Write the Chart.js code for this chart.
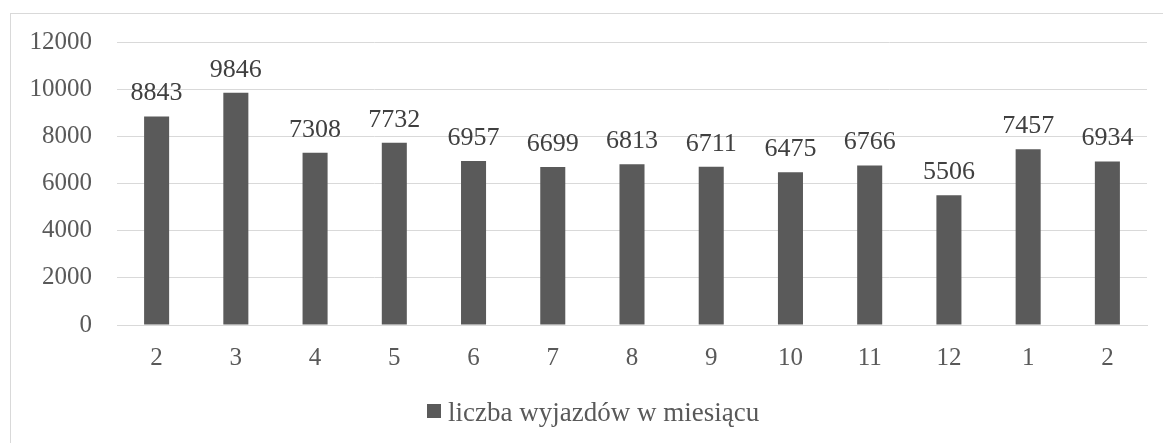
<!DOCTYPE html>
<html><head><meta charset="utf-8">
<script src="https://cdn.jsdelivr.net/npm/chart.js@4"></script>
<style>html,body{margin:0;padding:0;background:#fff;}#wrap{width:1163px;height:443px;position:relative;}</style>
</head><body><div id="wrap"><canvas id="c" width="1163" height="443"></canvas></div>
<script>
const categories = ['2','3','4','5','6','7','8','9','10','11','12','1','2'];
const values = [8843, 9846, 7308, 7732, 6957, 6699, 6813, 6711, 6475, 6766, 5506, 7457, 6934];
const yTicks = [0, 2000, 4000, 6000, 8000, 10000, 12000];
const seriesName = 'liczba wyjazdów w miesiącu';

const FONT = '"Liberation Serif", "Times New Roman", serif';
const FS = 25;
const BAR = '#5a5a5a';
const borderPlugin = {
  id: 'outerBorder',
  beforeDraw(chart) {
    const ctx = chart.ctx;
    ctx.save();
    ctx.fillStyle = '#fff';
    ctx.fillRect(0, 0, chart.width, chart.height);
    ctx.strokeStyle = '#d9d9d9';
    ctx.lineWidth = 1;
    ctx.strokeRect(10.5, 13.5, chart.width + 20, chart.height + 20);
    ctx.restore();
  }
};
const labelPlugin = {
  id: 'valueLabels',
  afterDatasetsDraw(chart) {
    const ctx = chart.ctx;
    const meta = chart.getDatasetMeta(0);
    ctx.save();
    ctx.font = '26px ' + FONT;
    ctx.fillStyle = '#404040';
    ctx.textAlign = 'center';
    ctx.textBaseline = 'alphabetic';
    meta.data.forEach((bar, i) => {
      ctx.fillText(String(values[i]), bar.x, bar.y - 16);
    });
    ctx.restore();
  }
};
const legendPlugin = {
  id: 'customLegend',
  afterDraw(chart) {
    const ctx = chart.ctx;
    ctx.save();
    ctx.font = '27px ' + FONT;
    const x0 = 427;
    const box = 14, gap = 7;
    const baseline = 421;
    ctx.fillStyle = BAR;
    ctx.fillRect(x0, 404, box, box);
    ctx.fillStyle = '#595959';
    ctx.textAlign = 'left';
    ctx.textBaseline = 'alphabetic';
    ctx.fillText(seriesName, x0 + box + gap, baseline);
    ctx.restore();
  }
};
new Chart(document.getElementById('c'), {
  type: 'bar',
  data: {
    labels: categories,
    datasets: [{
      label: seriesName,
      data: values,
      backgroundColor: BAR,
      borderWidth: 0,
      categoryPercentage: 1,
      barPercentage: 0.316
    }]
  },
  options: {
    responsive: false,
    animation: false,
    devicePixelRatio: 1,
    layout: { padding: { top: 42, right: 16, left: 0, bottom: 0 } },
    plugins: {
      tooltip: { enabled: false },
      legend: { display: false }
    },
    scales: {
      y: {
        min: 0, max: 12000,
        afterBuildTicks(scale) { scale.ticks = yTicks.map(v => ({ value: v })); },
        afterFit(scale) { scale.width = 117; },
        border: { display: false },
        grid: { color: '#d9d9d9', drawTicks: false, lineWidth: 1 },
        ticks: { font: { family: FONT, size: FS }, color: '#595959', padding: 25, callback: (v) => String(v) }
      },
      x: {
        afterFit(scale) { scale.height = 118; },
        border: { display: true, color: '#d9d9d9' },
        grid: { display: false, drawTicks: false },
        ticks: { font: { family: FONT, size: FS }, color: '#595959', padding: 18, maxRotation: 0, autoSkip: false }
      }
    }
  },
  plugins: [borderPlugin, labelPlugin, legendPlugin]
});
</script></body></html>
